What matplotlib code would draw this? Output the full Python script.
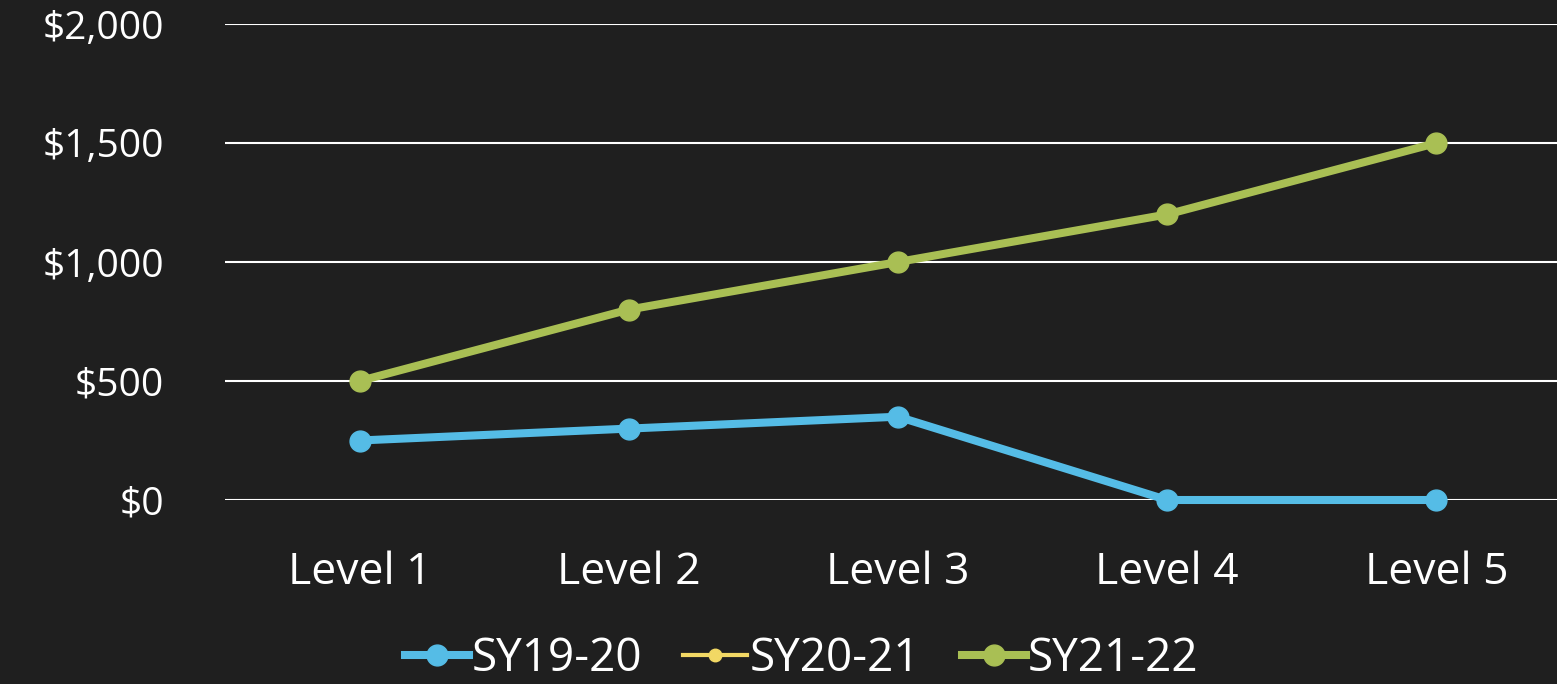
import numpy as np
import matplotlib
matplotlib.use("Agg")
import matplotlib.pyplot as plt
from matplotlib.ticker import FuncFormatter

# Datos del gráfico
niveles = ["Level 1", "Level 2", "Level 3", "Level 4", "Level 5"]
sy19_20 = [250, 300, 350, 0, 0]
sy20_21 = [np.nan, np.nan, np.nan, np.nan, np.nan]  # sin datos visibles
sy21_22 = [500, 800, 1000, 1200, 1500]
series = ["SY19-20", "SY20-21", "SY21-22"]
colores = ["#55BCE6", "#F2D864", "#A9BF54"]

plt.rcParams['font.family'] = ['Open Sans', 'DejaVu Sans']

fig = plt.figure(figsize=(15.57, 6.84), dpi=100)
fig.patch.set_facecolor("#1f1f1f")

# eje que se sale un poco por la derecha, como en el original
ax = fig.add_axes([225 / 1557, 184 / 684, 1346 / 1557, 476 / 684])
ax.set_facecolor("none")

x = np.arange(len(niveles))
ax.plot(x, sy19_20, color=colores[0], lw=5.8, marker="o", ms=15, label=series[0], zorder=3, clip_on=False)
ax.plot(x, sy20_21, color=colores[1], lw=3, marker="o", ms=9, label=series[1], zorder=3, clip_on=False)
ax.plot(x, sy21_22, color=colores[2], lw=5.8, marker="o", ms=15, label=series[2], zorder=3, clip_on=False)

ax.set_xlim(-0.5, 4.5)
ax.set_ylim(0, 2000)
ax.set_yticks([0, 500, 1000, 1500, 2000])
ax.yaxis.set_major_formatter(FuncFormatter(lambda v, p: "${:,.0f}".format(v)))
ax.set_xticks(x)
ax.set_xticklabels(niveles)

ax.grid(axis="y", color="white", lw=1.5, zorder=1)
ax.set_axisbelow(True)
for s in ax.spines.values():
    s.set_visible(False)
ax.tick_params(axis="y", length=0, pad=44, labelsize=28, labelcolor="white")
ax.tick_params(axis="x", length=0, pad=36, labelsize=32, labelcolor="white")

leg = fig.legend(loc="center", bbox_to_anchor=(0.515, 0.037), ncol=3, frameon=False,
                 fontsize=33, labelcolor="white", handlelength=1.4, handletextpad=0.05,
                 columnspacing=0.9)

fig.savefig("out.png", dpi=100, facecolor=fig.get_facecolor())
